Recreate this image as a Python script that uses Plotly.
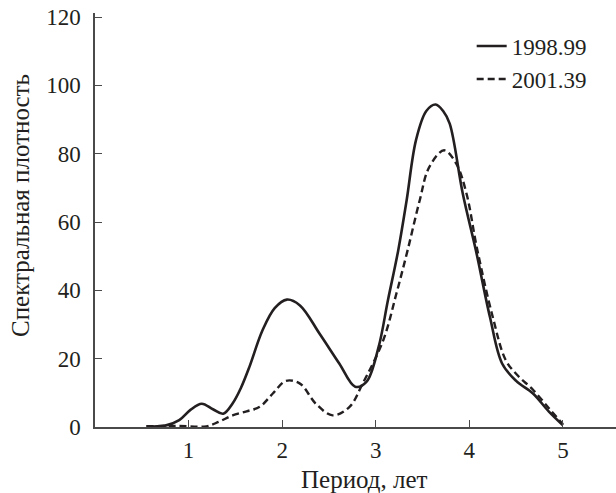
import plotly.graph_objects as go

# Spectral density vs period (years) for two epochs
period_1998 = [0.55, 0.75, 0.90, 1.02, 1.14, 1.26, 1.37, 1.47, 1.56, 1.65, 1.79, 1.92,
               2.05, 2.19, 2.40, 2.61, 2.78, 2.90, 3.03, 3.13, 3.24, 3.33, 3.43, 3.54,
               3.64, 3.72, 3.79, 3.93, 4.07, 4.22, 4.35, 4.50, 4.68, 4.85, 5.00]
density_1998 = [0.2, 0.4, 2.0, 5.0, 6.8, 5.2, 3.9, 6.9, 11.5, 17.6, 28.3, 34.8,
                37.3, 35.6, 27.3, 18.6, 11.8, 13.2, 23.4, 37.1, 51.7, 66.4, 84.0, 92.5,
                94.4, 92.5, 88.8, 68.3, 51.7, 32.2, 18.6, 13.5, 9.8, 4.5, 0.5]

period_2001 = [0.55, 0.90, 1.19, 1.32, 1.47, 1.62, 1.76, 1.90, 2.04, 2.19, 2.36, 2.54,
               2.72, 2.86, 3.08, 3.22, 3.34, 3.47, 3.57, 3.73, 3.86, 3.97, 4.08, 4.25,
               4.39, 4.52, 4.68, 4.85, 5.00]
density_2001 = [0.2, 0.3, 0.2, 1.5, 3.4, 4.6, 5.9, 9.8, 13.5, 12.7, 6.8, 3.4,
                5.9, 12.7, 25.4, 39.0, 51.7, 66.4, 76.0, 81.0, 77.1, 68.3, 52.5, 32.2,
                19.5, 15.0, 10.9, 5.5, 0.8]

x_ticks = [1, 2, 3, 4, 5]
y_ticks = [0, 20, 40, 60, 80, 100, 120]

FONT = "'Liberation Serif', 'Times New Roman', serif"
INK = "#231f20"
AXIS = "#4a4a4a"
TICK_SIZE = 23
TITLE_SIZE = 25

fig = go.Figure()
fig.add_trace(go.Scatter(
    x=period_1998, y=density_1998, name="1998.99", mode="lines",
    line=dict(color=INK, width=2.6, shape="spline", smoothing=1.0),
    legendgroup="a",
))
fig.add_trace(go.Scatter(
    x=period_2001, y=density_2001, name="2001.39", mode="lines",
    line=dict(color=INK, width=2.4, dash="7px,4px", shape="spline", smoothing=1.0),
    legendgroup="b",
))

axis_common = dict(
    showline=True, linecolor=AXIS, linewidth=1.5,
    ticks="inside", ticklen=7, tickwidth=1.3, tickcolor=AXIS,
    showgrid=False, zeroline=False,
    tickfont=dict(family=FONT, size=TICK_SIZE, color=INK),
)

fig.update_xaxes(range=[0, 5.567], tickvals=x_ticks, ticklabelstandoff=2, **axis_common)
fig.update_yaxes(range=[0, 121.2], tickvals=y_ticks, ticklabelstandoff=8, **axis_common)

fig.update_layout(
    width=616, height=493,
    margin=dict(l=95, r=0, t=13, b=66),
    plot_bgcolor="white", paper_bgcolor="white",
    font=dict(family=FONT, size=TICK_SIZE, color=INK),
    legend=dict(
        x=0.723, y=0.972, xanchor="left", yanchor="top",
        bgcolor="rgba(0,0,0,0)", borderwidth=0,
        font=dict(family=FONT, size=TICK_SIZE, color=INK),
        tracegroupgap=0,
    ),
    annotations=[
        dict(text="Период, лет", xref="paper", yref="paper",
             x=0.518, y=-0.128, xanchor="center", yanchor="middle",
             showarrow=False, font=dict(family=FONT, size=TITLE_SIZE, color=INK)),
        dict(text="Спектральная плотность", xref="paper", yref="paper",
             x=-0.143, y=0.535, xanchor="center", yanchor="middle", textangle=-90,
             showarrow=False, font=dict(family=FONT, size=TITLE_SIZE, color=INK)),
    ],
)

fig.write_html("out.html")
